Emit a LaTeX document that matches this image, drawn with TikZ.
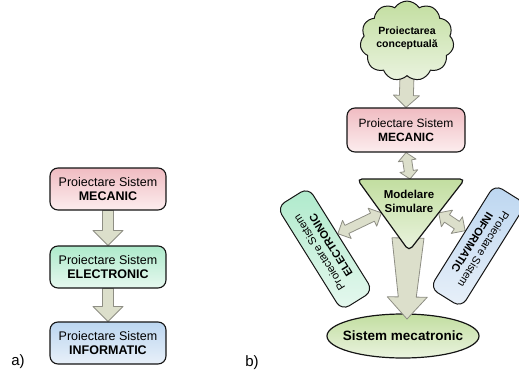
\documentclass[tikz,border=0pt]{standalone}
\usepackage{fontspec}
\setmainfont{Liberation Sans}
\usetikzlibrary{shapes.geometric,shapes.symbols,calc,backgrounds}
\definecolor{pinkT}{HTML}{F0BCC2}
\definecolor{pinkB}{HTML}{FCEDEE}
\definecolor{mintT}{HTML}{AEEACB}
\definecolor{mintB}{HTML}{E6F8EF}
\definecolor{bluT}{HTML}{BCD6F0}
\definecolor{bluB}{HTML}{E8F0F9}
\definecolor{limT}{HTML}{C2DEA0}
\definecolor{limB}{HTML}{EAF3DF}
\definecolor{arrF}{HTML}{DCDFCB}
\definecolor{arrD}{HTML}{8E8E84}
\definecolor{bordK}{HTML}{141414}
% single block arrow: from, to, shaft half-width at start, at head, head half-width, head length
\newcommand\blkarr[6]{%
  \coordinate (bA) at ($(#2)!#6!(#1)$);
  \path[arrblk] ($(#1)!#3!90:(#2)$) -- ($(bA)!#4!-90:(#1)$) -- ($(bA)!#5!-90:(#1)$) -- (#2)
    -- ($(bA)!#5!90:(#1)$) -- ($(bA)!#4!90:(#1)$) -- ($(#1)!#3!-90:(#2)$) -- cycle;}
% double block arrow: from, to, shaft half-width, head half-width, head length
\newcommand\dblarr[5]{%
  \coordinate (bA) at ($(#1)!#5!(#2)$);
  \coordinate (bB) at ($(#2)!#5!(#1)$);
  \path[arrblk] (#1) -- ($(bA)!#4!90:(#2)$) -- ($(bA)!#3!90:(#2)$) -- ($(bB)!#3!-90:(#1)$)
    -- ($(bB)!#4!-90:(#1)$) -- (#2) -- ($(bB)!#4!90:(#1)$) -- ($(bB)!#3!90:(#1)$)
    -- ($(bA)!#3!-90:(#2)$) -- ($(bA)!#4!-90:(#2)$) -- cycle;}
\begin{document}
\begin{tikzpicture}[x=1pt,y=-1pt,
  boxa/.style={draw=bordK, line width=1.1pt, rounded corners=8pt, minimum width=116pt,
    minimum height=42pt, align=center, inner sep=2pt, font=\fontsize{12.5}{14.5}\selectfont},
  rbox/.style={draw=bordK, line width=1pt, rounded corners=9pt, minimum width=122pt,
    minimum height=37pt, align=center, inner sep=1pt, font=\fontsize{11}{13.5}\selectfont},
  lime/.style={top color=limT, bottom color=limB},
  arrblk/.style={fill=arrF, draw=arrD, line width=0.8pt, line join=round},
  lbl/.style={font=\fontsize{15}{17}\selectfont, inner sep=0pt}]
\useasboundingbox (0,0) rectangle (519,377);

% ---------- panel a ----------
\node[boxa, top color=pinkT, bottom color=pinkB] (am) at (108,189) {Proiectare Sistem\\\textbf{MECANIC}};
\node[boxa, top color=mintT, bottom color=mintB] (ae) at (108,267) {Proiectare Sistem\\\textbf{ELECTRONIC}};
\node[boxa, top color=bluT, bottom color=bluB] (ai) at (108,343) {Proiectare Sistem\\\textbf{INFORMATIC}};
\node[lbl] (la) at (18,362) {a)};

% ---------- panel b ----------
\node[cloud, cloud puffs=11, cloud puff arc=115, aspect=1.25, draw=bordK, line width=1pt, lime,
  minimum width=86pt, minimum height=68pt, inner sep=0pt,
  font=\bfseries\fontsize{10.5}{13}\selectfont] (cl) at (407,41)
  {\smash{\begin{tabular}{@{}c@{}}Proiectarea\\conceptuală\end{tabular}}};
\node[boxa, top color=pinkT, bottom color=pinkB, minimum width=118pt, minimum height=44pt,
  font=\fontsize{12}{14}\selectfont] (bm) at (406,130) {Proiectare Sistem\\\textbf{MECANIC}};
\node[rbox, rotate=122, top color=mintT, bottom color=mintB] (be) at (325,249)
  {Proiectare Sistem\\\textbf{ELECTRONIC}};
\node[rbox, rotate=238, top color=bluT, bottom color=bluB] (bi) at (478,246)
  {Proiectare Sistem\\\textbf{INFORMATIC}};
\node[ellipse, draw=bordK, line width=1.2pt, lime, minimum width=152pt, minimum height=44pt,
  inner sep=0pt, font=\bfseries\fontsize{13.5}{16}\selectfont] (se) at (403,336)
  {\makebox[0pt]{Sistem mecatronic}};
\node[lbl] (lb) at (252,363) {b)};

% triangle corners and connection points
\coordinate (tl) at (357,179);
\coordinate (tr) at (465,179);
\coordinate (tb) at (409,251);
\coordinate (tt) at (410,179);
\coordinate (tw) at ($(tl)!0.47!(tb)$);
\coordinate (te) at ($(tr)!0.47!(tb)$);
\coordinate (tc) at (408,238);
\coordinate (tip) at (407,319);

% arrows behind boxes
\begin{scope}[on background layer]
  \blkarr{am.south}{ae.north}{5.5pt}{5.5pt}{15pt}{15pt}
  \blkarr{ae.south}{ai.north}{5.5pt}{5.5pt}{15pt}{15pt}
  \blkarr{cl.south}{bm.north}{7pt}{7pt}{13pt}{12pt}
  \dblarr{bm.south}{tt}{4.5pt}{9pt}{8pt}
  \dblarr{$(be.south)!0.1!(be.south east)$}{tw}{4.5pt}{10pt}{10pt}
  \dblarr{$(bi.south)!0.1!(bi.south west)$}{te}{4.5pt}{10pt}{10pt}
\end{scope}

% big arrow over the ellipse, under the triangle
\blkarr{tc}{tip}{16pt}{9pt}{20pt}{22pt}

% triangle
\path[draw=bordK, line width=1.2pt, lime, rounded corners=5pt] (tl) -- (tr) -- (tb) -- cycle;
\node[font=\bfseries\fontsize{11.5}{14}\selectfont, align=center] (tri) at (409,201) {Modelare\\Simulare};
\end{tikzpicture}
\end{document}
